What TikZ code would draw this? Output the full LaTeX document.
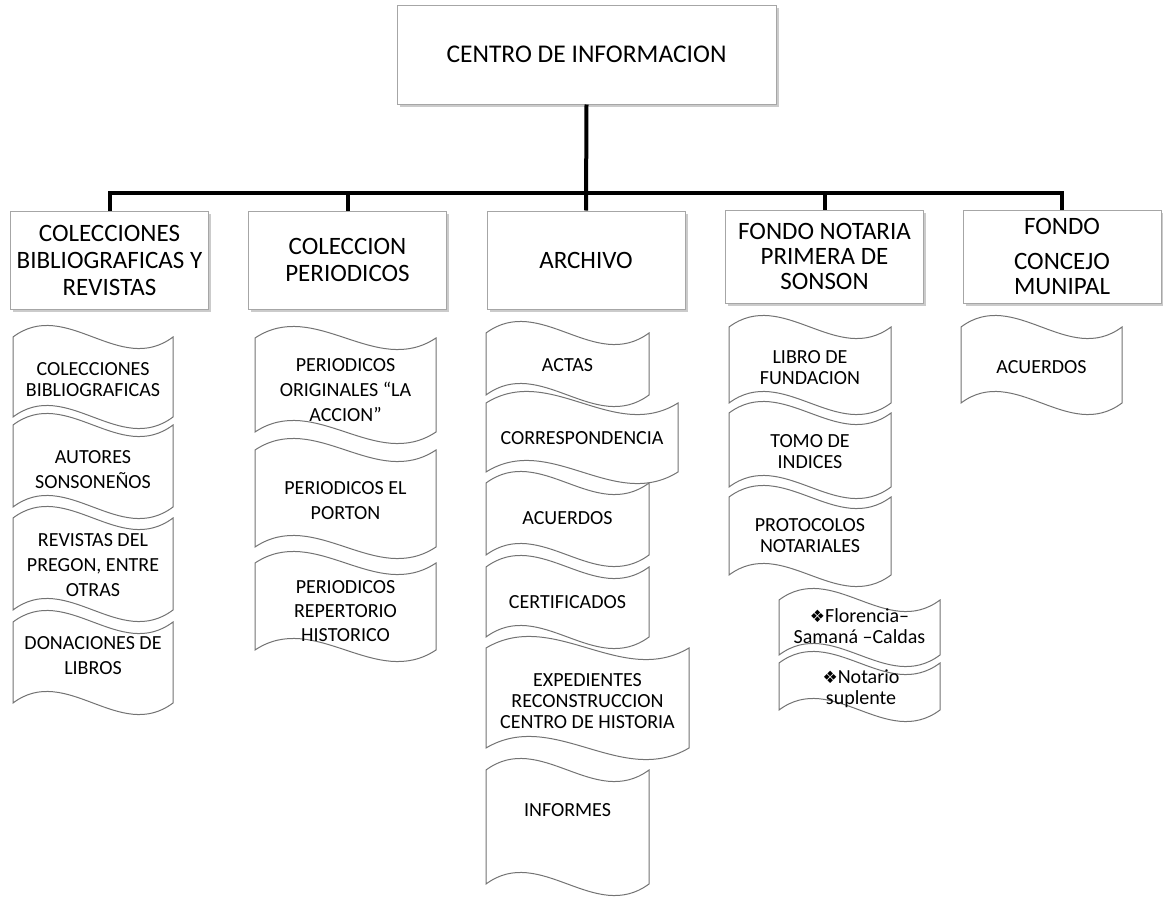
\documentclass[tikz,border=0pt]{standalone}
\usepackage{fontspec}
\setmainfont{Carlito}
\newfontfamily\symfont{DejaVu Sans}
\usetikzlibrary{shadows}

\tikzset{
  boxshadow/.style={drop shadow={shadow xshift=2.5pt, shadow yshift=-2.5pt, opacity=.45, fill=black!45}},
  topbox/.style={draw=black!35, fill=white, line width=1pt, minimum width=379pt,
    minimum height=99pt, boxshadow, font=\fontsize{25.5}{27}\selectfont},
  unitbox/.style={draw=black!35, fill=white, line width=1pt, minimum width=198pt,
    minimum height=98pt, align=center, boxshadow, font=\fontsize{25}{27}\selectfont},
  bus/.style={line width=4pt, black},
  docline/.style={draw=black!55, fill=white, line width=1pt},
  doctext/.style={align=center, font=\fontsize{20}{25}\selectfont},
  tighttext/.style={align=center, font=\fontsize{20}{21}\selectfont},
}

% wave document: left, right, top, bottom
\newcommand{\wavedoc}[4]{%
  \pgfmathsetmacro\wla{#1+(#2-#1)/3}%
  \pgfmathsetmacro\wlb{#1+2*(#2-#1)/3}%
  \draw[docline] (#1,#3) .. controls (\wla,#3-40) and (\wlb,#3+40) .. (#2,#3)
    -- (#2,#4) .. controls (\wlb,#4+40) and (\wla,#4-40) .. (#1,#4) -- cycle;}
\newcommand{\bul}{{\symfont\fontsize{17}{17}\selectfont ❖}}

\begin{document}
\begin{tikzpicture}[x=1pt,y=-1pt]
  \useasboundingbox (0,0) rectangle (1163,897);
  % Head box
  \node[topbox] (centro) at (586.5,54.5) {CENTRO DE INFORMACION};
  % Level one boxes
  \node[unitbox] (colbib) at (109.5,260) {COLECCIONES\\BIBLIOGRAFICAS Y\\REVISTAS};
  \node[unitbox] (colper) at (347.5,260) {COLECCION\\PERIODICOS};
  \node[unitbox] (archivo) at (586,260) {ARCHIVO};
  \node[unitbox, minimum height=93pt, font=\fontsize{25}{25}\selectfont]
    (notaria) at (824.5,256.5) {FONDO NOTARIA\\PRIMERA DE\\SONSON};
  \node[unitbox, minimum height=93pt, font=\fontsize{25}{25}\selectfont]
    (concejo) at (1062,256.5) {FONDO\\[10pt]CONCEJO\\MUNIPAL};
  % Connectors
  \coordinate (junction) at (586.5,193);
  \draw[bus] (centro.south) -- (archivo.north);
  \draw[bus] (colbib.north) |- (junction) -| (concejo.north);
  \draw[bus] (colper.north) -- (colper.north |- junction);
  \draw[bus] (notaria.north) -- (notaria.north |- junction);
  % Column 1
  \wavedoc{13}{173}{337}{417}
  \node[tighttext] (bibdoc) at (93,380) {COLECCIONES\\BIBLIOGRAFICAS};
  \wavedoc{13}{173}{425}{507}
  \node[doctext] (autores) at (93,469.5) {AUTORES\\SONSONEÑOS};
  \wavedoc{13}{173}{518}{610}
  \node[doctext] (revistas) at (93,565) {REVISTAS DEL\\PREGON, ENTRE\\OTRAS};
  \wavedoc{13}{173}{622}{703}
  \node[doctext] (donaciones) at (93,655.5) {DONACIONES DE\\LIBROS};
  % Column 2
  \wavedoc{255}{436}{338}{432}
  \node[doctext] (accion) at (345.5,390) {PERIODICOS\\ORIGINALES “LA\\ACCION”};
  \wavedoc{255}{436}{450}{547}
  \node[doctext] (porton) at (345.5,500.5) {PERIODICOS EL\\PORTON};
  \wavedoc{255}{436}{563}{650}
  \node[doctext, font=\fontsize{20}{24}\selectfont] (repertorio) at (345.5,611)
    {PERIODICOS\\REPERTORIO\\HISTORICO};
  % Column 3
  \wavedoc{486}{649}{333}{395}
  \node[doctext] (actas) at (567.5,365) {ACTAS};
  \wavedoc{486}{678}{403}{472}
  \node[doctext] (corresp) at (582,438) {CORRESPONDENCIA};
  \wavedoc{486}{649}{483}{555}
  \node[doctext] (acuerdos) at (567.5,518) {ACUERDOS};
  \wavedoc{486}{649}{567}{637}
  \node[doctext] (certif) at (567.5,602) {CERTIFICADOS};
  \wavedoc{486}{689}{648}{748}
  \node[tighttext] (expedientes) at (587.5,701)
    {EXPEDIENTES\\RECONSTRUCCION\\CENTRO DE HISTORIA};
  \wavedoc{486}{649}{770}{884}
  \node[doctext] (informes) at (567.5,810) {INFORMES};
  % Column 4
  \wavedoc{729}{891}{327}{403}
  \node[tighttext] (libro) at (810,367.5) {LIBRO DE\\FUNDACION};
  \wavedoc{729}{891}{413}{487}
  \node[tighttext] (tomo) at (810,451.5) {TOMO DE\\INDICES};
  \wavedoc{729}{891}{497}{575}
  \node[tighttext] (protocolos) at (810,536) {PROTOCOLOS\\NOTARIALES};
  \wavedoc{779}{940}{600}{655}
  \node[tighttext] (florencia) at (859.5,626.5) {\bul Florencia–\\Samaná –Caldas};
  \wavedoc{779}{940}{663}{710}
  \node[tighttext] (notario) at (861,688.5) {\bul Notario\\suplente};
  % Column 5
  \wavedoc{961}{1122}{327}{403}
  \node[doctext] (acuerdosc) at (1041.5,367) {ACUERDOS};
\end{tikzpicture}
\end{document}
